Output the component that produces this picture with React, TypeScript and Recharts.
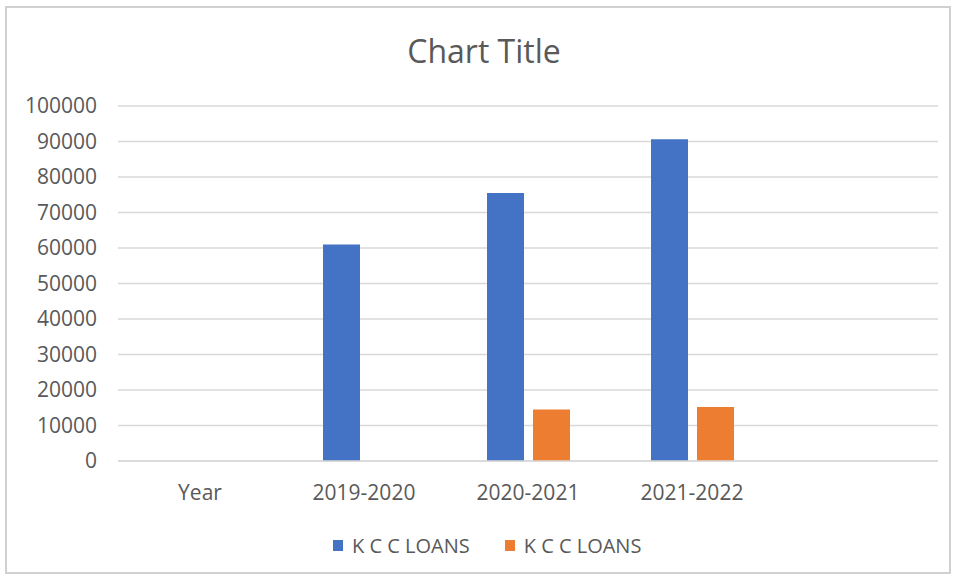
import React from 'react';
import { BarChart, Bar, XAxis, YAxis, CartesianGrid, Legend } from 'recharts';

const categories = ['Year', '2019-2020', '2020-2021', '2021-2022', ' '];
const kccLoansA: (number | null)[] = [null, 61000, 75500, 90600, null];
const kccLoansB: (number | null)[] = [null, null, 14500, 15200, null];
const yTicks = [0, 10000, 20000, 30000, 40000, 50000, 60000, 70000, 80000, 90000, 100000];
const seriesNames = ['K C C LOANS', 'K C C LOANS'];
const colors = ['#4472C4', '#ED7D31'];

const data = categories.map((c, i) => ({ name: c, a: kccLoansA[i], b: kccLoansB[i] }));

const FONT = '"Open Sans", sans-serif';
const TEXT = '#595959';

const renderLegend = (props: any) => {
  const payload = props.payload || [];
  return (
    <div style={{ display: 'flex', alignItems: 'center', paddingLeft: 333, height: 30, fontFamily: FONT, fontSize: 20, color: TEXT }}>
      {payload.map((p: any, i: number) => (
        <div key={i} style={{ display: 'flex', alignItems: 'center', marginLeft: i === 0 ? 0 : 35 }}>
          <span style={{ display: 'inline-block', width: 10, height: 11, background: p.color, marginRight: 9 }} />
          <span>{p.value}</span>
        </div>
      ))}
    </div>
  );
};

export default function App() {
  return (
    <div style={{ position: 'absolute', left: 0, top: 0, width: 956, height: 580, background: '#fff' }}>
      <div style={{ position: 'absolute', left: 0, width: 968, top: 28, textAlign: 'center', fontFamily: FONT, fontSize: 32, color: TEXT, lineHeight: '46px' }}>
        Chart Title
      </div>
      <BarChart
        width={956}
        height={580}
        data={data}
        margin={{ top: 106, right: 18, bottom: 59, left: 0 }}
        barSize={37}
        barGap={9}
        style={{ position: 'absolute', left: 0, top: 0 }}
      >
        <CartesianGrid vertical={false} stroke="#d9d9d9" strokeWidth={1.5} />
        <XAxis
          dataKey="name"
          height={60}
          axisLine={{ stroke: '#d9d9d9', strokeWidth: 1.5 }}
          tickLine={false}
          tickSize={0}
          tickMargin={24}
          interval={0}
          tick={{ fill: TEXT, fontSize: 21, fontFamily: FONT }}
        />
        <YAxis
          width={118}
          domain={[0, 100000]}
          ticks={yTicks}
          interval={0}
          axisLine={false}
          tickLine={false}
          tickSize={0}
          tickMargin={21}
          tick={{ fill: TEXT, fontSize: 21, fontFamily: FONT }}
        />
        <Legend
          layout="horizontal"
          verticalAlign="middle"
          align="center"
          content={renderLegend}
          wrapperStyle={{ position: 'absolute', left: 0, top: 530, width: 956, height: 30 }}
        />
        <Bar dataKey="a" name={seriesNames[0]} fill={colors[0]} isAnimationActive={false} />
        <Bar dataKey="b" name={seriesNames[1]} fill={colors[1]} isAnimationActive={false} />
      </BarChart>
      <div style={{ position: 'absolute', left: 5, top: 6, width: 946, height: 568, border: '2px solid #d0d0d0', boxSizing: 'border-box', zIndex: 5, pointerEvents: 'none' }} />
    </div>
  );
}
